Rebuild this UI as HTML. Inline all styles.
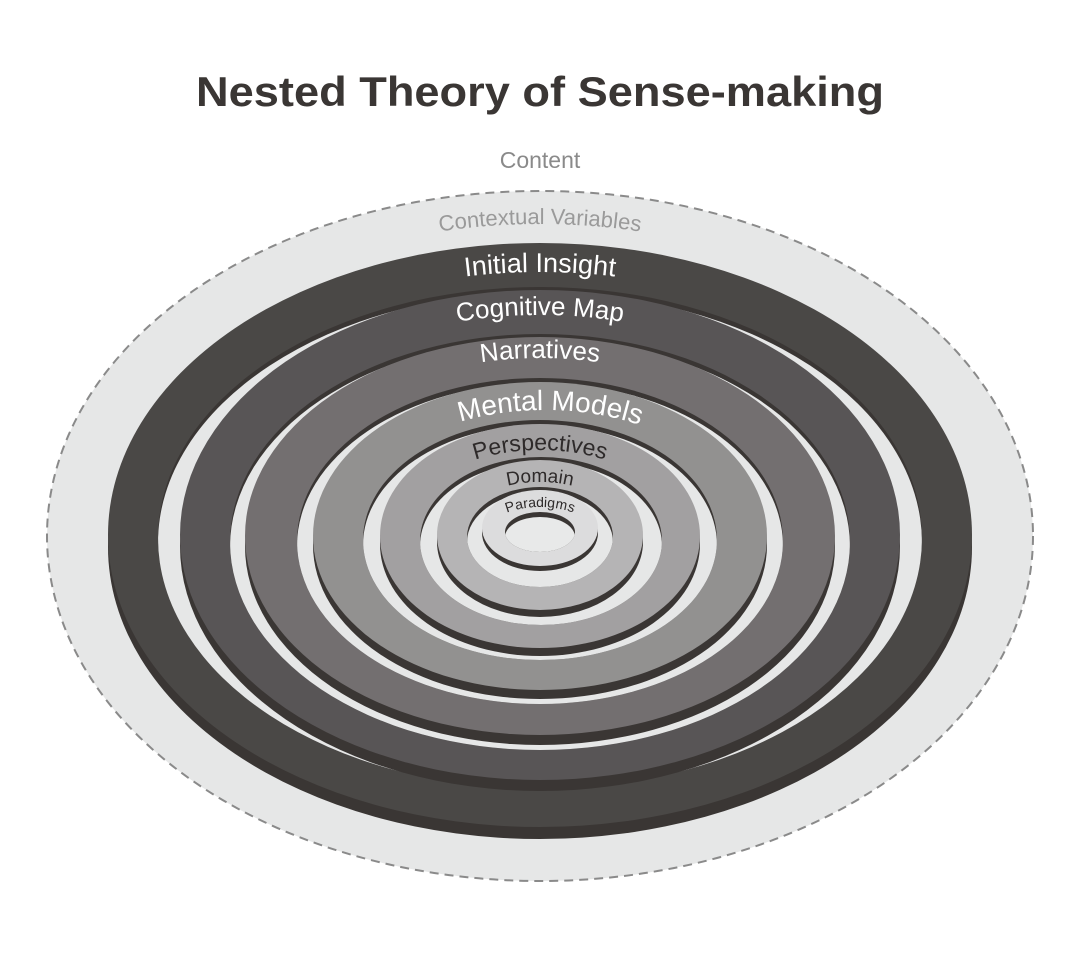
<!DOCTYPE html>
<html><head><meta charset="utf-8"><style>
html,body{margin:0;padding:0;background:#fff;}
svg{display:block;}
</style></head><body>
<svg width="1080" height="954" viewBox="0 0 1080 954" xmlns="http://www.w3.org/2000/svg" font-family="'Liberation Sans', sans-serif">
<defs>
<clipPath id="h1"><ellipse cx="540" cy="538" rx="382" ry="251"/></clipPath>
<clipPath id="h2"><ellipse cx="540" cy="542" rx="310" ry="208"/></clipPath>
<clipPath id="h3"><ellipse cx="540" cy="541" rx="243" ry="163"/></clipPath>
<clipPath id="h4"><ellipse cx="540" cy="540" rx="177" ry="120"/></clipPath>
<clipPath id="h5"><ellipse cx="541" cy="541" rx="121" ry="84"/></clipPath>
<clipPath id="h6"><ellipse cx="540" cy="537" rx="73" ry="50"/></clipPath>
<clipPath id="h7"><ellipse cx="540" cy="532" rx="35" ry="20"/></clipPath>
<path id="p1" d="M133,535 A407 263 0 0 1 947,535"/>
<path id="p2" d="M205,535 A335 220 0 0 1 875,535"/>
<path id="p3" d="M270,536 A270 178 0 0 1 810,536"/>
<path id="p4" d="M345,536 A200 126 0 0 1 745,536"/>
<path id="p5" d="M400,536 A140 86 0 0 1 680,536"/>
<path id="p6" d="M452,536 A88 54 0 0 1 628,536"/>
<path id="p7" d="M488,532 A52 25 0 0 1 592,532"/>
<path id="p0" d="M80,537 A460 313 0 0 1 1000,537"/>
</defs>

<text x="540" y="106" text-anchor="middle" font-size="42" font-weight="bold" fill="#3a3634" textLength="688" lengthAdjust="spacingAndGlyphs">Nested Theory of Sense-making</text>
<text x="540" y="168" text-anchor="middle" font-size="23" fill="#8a8a8a">Content</text>

<ellipse cx="540" cy="536" rx="493" ry="345" fill="#e6e7e7" stroke="#8a8a8a" stroke-width="2" stroke-dasharray="9,6"/>

<ellipse cx="540" cy="547" rx="432" ry="292" fill="#3a3634"/>
<ellipse cx="540" cy="535" rx="432" ry="292" fill="#4a4846"/>
<ellipse cx="540" cy="538" rx="382" ry="251" fill="#3a3634"/>
<ellipse cx="540" cy="543" rx="382" ry="251" fill="#e6e7e7" clip-path="url(#h1)"/>
<ellipse cx="540" cy="546" rx="360" ry="245" fill="#3a3634"/>
<ellipse cx="540" cy="535" rx="360" ry="245" fill="#585556"/>
<ellipse cx="540" cy="542" rx="310" ry="208" fill="#3a3634"/>
<ellipse cx="540" cy="547" rx="310" ry="208" fill="#e6e7e7" clip-path="url(#h2)"/>
<ellipse cx="540" cy="546" rx="295" ry="199" fill="#3a3634"/>
<ellipse cx="540" cy="536" rx="295" ry="199" fill="#736f70"/>
<ellipse cx="540" cy="541" rx="243" ry="163" fill="#3a3634"/>
<ellipse cx="540" cy="546" rx="243" ry="163" fill="#e6e7e7" clip-path="url(#h3)"/>
<ellipse cx="540" cy="545" rx="227" ry="154" fill="#3a3634"/>
<ellipse cx="540" cy="536" rx="227" ry="154" fill="#929190"/>
<ellipse cx="540" cy="540" rx="177" ry="120" fill="#3a3634"/>
<ellipse cx="540" cy="545" rx="177" ry="120" fill="#e6e7e7" clip-path="url(#h4)"/>
<ellipse cx="540" cy="544" rx="160" ry="112" fill="#3a3634"/>
<ellipse cx="540" cy="536" rx="160" ry="112" fill="#a2a0a1"/>
<ellipse cx="541" cy="541" rx="121" ry="84" fill="#3a3634"/>
<ellipse cx="541" cy="546" rx="121" ry="84" fill="#e6e7e7" clip-path="url(#h5)"/>
<ellipse cx="540" cy="542" rx="103" ry="75" fill="#3a3634"/>
<ellipse cx="540" cy="535" rx="103" ry="75" fill="#b5b4b5"/>
<ellipse cx="540" cy="537" rx="73" ry="50" fill="#3a3634"/>
<ellipse cx="540" cy="542" rx="73" ry="50" fill="#e6e7e7" clip-path="url(#h6)"/>
<ellipse cx="540" cy="533" rx="58" ry="38" fill="#3a3634"/>
<ellipse cx="540" cy="528" rx="58" ry="38" fill="#dcdcdd"/>
<ellipse cx="540" cy="532" rx="35" ry="20" fill="#3a3634"/>
<ellipse cx="540" cy="537" rx="35" ry="20" fill="#e8e9e9" clip-path="url(#h7)"/>

<text font-size="22" fill="#9a9a9a" text-anchor="middle"><textPath href="#p0" startOffset="50%">Contextual Variables</textPath></text>
<text font-size="27" fill="#fff" text-anchor="middle"><textPath href="#p1" startOffset="50%">Initial Insight</textPath></text>
<text font-size="26" fill="#fff" text-anchor="middle"><textPath href="#p2" startOffset="50%">Cognitive Map</textPath></text>
<text font-size="26" fill="#fff" text-anchor="middle"><textPath href="#p3" startOffset="50%">Narratives</textPath></text>
<text font-size="28" fill="#fff" text-anchor="middle"><textPath href="#p4" startOffset="51%">Mental Models</textPath></text>
<text font-size="23" fill="#2e2a2a" text-anchor="middle"><textPath href="#p5" startOffset="50%">Perspectives</textPath></text>
<text font-size="19" fill="#2e2a2a" text-anchor="middle"><textPath href="#p6" startOffset="50%">Domain</textPath></text>
<text font-size="14" fill="#2e2a2a" text-anchor="middle"><textPath href="#p7" startOffset="50%">Paradigms</textPath></text>
</svg>
</body></html>
